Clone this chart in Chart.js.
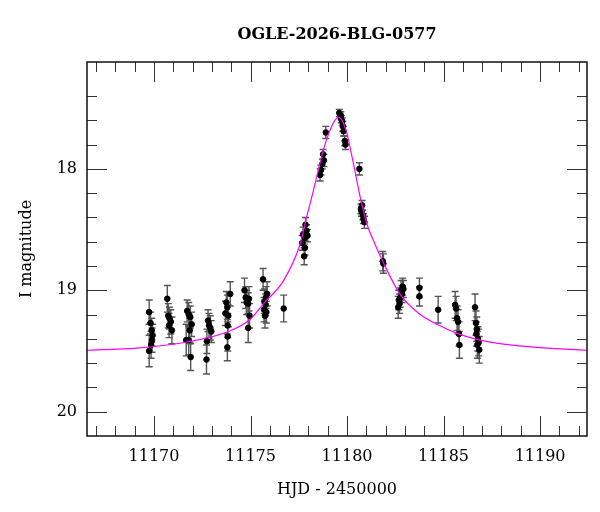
<!DOCTYPE html>
<html lang="en">
<head>
<meta charset="UTF-8">
<title>OGLE-2026-BLG-0577</title>
<script src="https://cdn.jsdelivr.net/npm/chart.js@4"></script>
<style>
  html, body { margin: 0; padding: 0; background: #fff; }
  #wrap { width: 600px; height: 512px; }
</style>
</head>
<body>
<div id="wrap"><canvas id="lc" width="600" height="512"></canvas></div>
<script>
// photometry (HJD - 2450000, I mag, 1-sigma error)
const obsTime = [
  11169.75, 11169.82, 11169.88, 11169.93, 11169.90, 11169.85, 11169.75,
  11170.69, 11170.74, 11170.80, 11170.87, 11170.78, 11170.93,
  11171.72, 11171.80, 11171.88, 11171.95, 11171.85, 11171.67, 11171.80, 11171.90,
  11172.80, 11172.85, 11172.92, 11172.97, 11172.74, 11172.72,
  11173.95, 11173.75, 11173.80, 11173.70, 11173.85, 11173.82, 11173.82, 11173.80,
  11174.69, 11174.75, 11174.80, 11174.92, 11174.88, 11174.95, 11174.88,
  11175.65, 11175.86, 11175.80, 11175.72, 11175.78, 11175.70, 11175.82, 11175.75,
  11176.72,
  11177.85, 11177.90, 11177.72, 11177.95, 11177.80, 11177.68, 11177.82, 11177.78,
  11178.60, 11178.65, 11178.72, 11178.80, 11178.76, 11178.90,
  11179.60, 11179.68, 11179.70, 11179.75, 11179.78, 11179.82, 11179.88, 11179.92,
  11180.64,
  11180.78, 11180.72, 11180.75, 11180.82, 11180.85, 11180.90,
  11181.85, 11181.88,
  11182.88, 11182.92, 11182.80, 11182.85, 11182.75, 11182.68, 11182.72, 11182.65,
  11183.75, 11183.75,
  11184.72,
  11185.60, 11185.65, 11185.70, 11185.75, 11185.80, 11185.82,
  11186.63, 11186.68, 11186.72, 11186.70, 11186.78, 11186.82, 11186.75, 11186.85
];
const obsMag = [
  19.18, 19.27, 19.33, 19.37, 19.41, 19.45, 19.50,
  19.07, 19.21, 19.23, 19.26, 19.29, 19.33,
  19.17, 19.20, 19.22, 19.28, 19.33, 19.41, 19.41, 19.55,
  19.25, 19.29, 19.31, 19.34, 19.42, 19.57,
  19.03, 19.10, 19.14, 19.19, 19.21, 19.29, 19.38, 19.47,
  19.00, 19.06, 19.10, 19.07, 19.11, 19.21, 19.31,
  18.91, 19.03, 19.06, 19.09, 19.12, 19.16, 19.18, 19.21,
  19.15,
  18.46, 18.51, 18.54, 18.55, 18.57, 18.61, 18.65, 18.72,
  18.05, 18.01, 17.96, 17.93, 17.88, 17.70,
  17.54, 17.56, 17.59, 17.61, 17.65, 17.69, 17.77, 17.80,
  18.00,
  18.30, 18.33, 18.35, 18.38, 18.41, 18.44,
  18.76, 18.78,
  18.97, 18.99, 19.00, 19.03, 19.06, 19.08, 19.11, 19.14,
  18.98, 19.05,
  19.16,
  19.12, 19.15, 19.23, 19.26, 19.36, 19.45,
  19.14, 19.27, 19.32, 19.36, 19.40, 19.43, 19.45, 19.49
];
const obsErr = [
  0.10, 0.09, 0.10, 0.09, 0.10, 0.11, 0.13,
  0.11, 0.10, 0.09, 0.10, 0.10, 0.11,
  0.09, 0.10, 0.09, 0.10, 0.10, 0.13, 0.12, 0.11,
  0.09, 0.10, 0.10, 0.09, 0.10, 0.12,
  0.10, 0.09, 0.10, 0.10, 0.09, 0.10, 0.12, 0.11,
  0.10, 0.09, 0.10, 0.10, 0.09, 0.10, 0.12,
  0.09, 0.10, 0.09, 0.10, 0.09, 0.10, 0.09, 0.10,
  0.11,
  0.06, 0.05, 0.06, 0.05, 0.05, 0.06, 0.06, 0.07,
  0.05, 0.04, 0.04, 0.05, 0.04, 0.05,
  0.03, 0.03, 0.03, 0.03, 0.04, 0.04, 0.04, 0.04,
  0.05,
  0.04, 0.04, 0.04, 0.04, 0.04, 0.05,
  0.08, 0.08,
  0.07, 0.07, 0.08, 0.07, 0.08, 0.08, 0.08, 0.09,
  0.08, 0.08,
  0.11,
  0.11, 0.10, 0.10, 0.10, 0.10, 0.11,
  0.11, 0.10, 0.10, 0.10, 0.10, 0.11, 0.11, 0.11
];

// model light curve
const modelTime = [
  11166.53, 11169.12, 11171.71, 11173.78, 11174.98, 11175.69, 11176.72,
  11177.58, 11177.91, 11178.28, 11178.43, 11178.77, 11179.12, 11179.38,
  11179.55, 11179.73, 11179.99, 11180.33, 11180.68, 11181.02, 11181.36,
  11181.87, 11182.75, 11183.78, 11184.66, 11185.70, 11186.73, 11187.83,
  11189.85, 11192.43
];
const modelMag = [
  19.494, 19.476, 19.426, 19.344, 19.240, 19.107, 18.918,
  18.615, 18.396, 18.165, 18.066, 17.846, 17.681, 17.598,
  17.576, 17.598, 17.708, 17.955, 18.231, 18.450, 18.588,
  18.769, 19.033, 19.198, 19.280, 19.355, 19.404, 19.437,
  19.470, 19.494
];

const xMajor = [11170, 11175, 11180, 11185, 11190];
const xMinor = [11167, 11168, 11169, 11171, 11172, 11173, 11174, 11176, 11177, 11178, 11179,
  11181, 11182, 11183, 11184, 11186, 11187, 11188, 11189, 11191, 11192];
const yMajor = [18, 19, 20];
const yMinor = [17.4, 17.6, 17.8, 18.2, 18.4, 18.6, 18.8, 19.2, 19.4, 19.6, 19.8];

const X_MIN = 11166.53, X_MAX = 11192.43;
const Y_MIN = 17.12, Y_MAX = 20.2;
const SERIF = "'DejaVu Serif', 'Liberation Serif', serif";

const points = obsTime.map((t, i) => ({ x: t, y: obsMag[i] }));
const model = modelTime.map((t, i) => ({ x: t, y: modelMag[i] }));

// vertical error bars with small caps
const errorBars = {
  id: 'errorBars',
  beforeDatasetsDraw(chart) {
    const { ctx, scales: { x, y } } = chart;
    ctx.save();
    ctx.strokeStyle = '#555';
    ctx.lineWidth = 1.4;
    obsTime.forEach((t, i) => {
      const px = x.getPixelForValue(t);
      const top = y.getPixelForValue(obsMag[i] - obsErr[i]);
      const bot = y.getPixelForValue(obsMag[i] + obsErr[i]);
      ctx.beginPath();
      ctx.moveTo(px, top); ctx.lineTo(px, bot);
      ctx.moveTo(px - 3.5, top); ctx.lineTo(px + 3.5, top);
      ctx.moveTo(px - 3.5, bot); ctx.lineTo(px + 3.5, bot);
      ctx.stroke();
    });
    ctx.restore();
  }
};

// box frame with inward ticks on all four sides
const frameTicks = {
  id: 'frameTicks',
  afterDraw(chart) {
    const { ctx, chartArea: a, scales: { x, y } } = chart;
    ctx.save();
    ctx.strokeStyle = '#333';
    ctx.lineWidth = 1;
    ctx.beginPath();
    const tickX = (v, len) => {
      const px = Math.round(x.getPixelForValue(v)) + 0.5;
      ctx.moveTo(px, a.bottom); ctx.lineTo(px, a.bottom - len);
      ctx.moveTo(px, a.top); ctx.lineTo(px, a.top + len);
    };
    const tickY = (v, len) => {
      const py = Math.round(y.getPixelForValue(v)) + 0.5;
      ctx.moveTo(a.left, py); ctx.lineTo(a.left + len, py);
      ctx.moveTo(a.right, py); ctx.lineTo(a.right - len, py);
    };
    xMajor.forEach(v => tickX(v, 20));
    xMinor.forEach(v => tickX(v, 10));
    yMajor.forEach(v => tickY(v, 20));
    yMinor.forEach(v => tickY(v, 10));
    ctx.stroke();
    ctx.strokeStyle = '#111';
    ctx.lineWidth = 1.5;
    ctx.strokeRect(a.left, a.top, a.right - a.left, a.bottom - a.top);
    ctx.restore();
  }
};

new Chart(document.getElementById('lc'), {
  type: 'scatter',
  data: {
    datasets: [
      {
        type: 'line',
        label: 'model',
        data: model,
        borderColor: '#ff00ff',
        borderWidth: 1.2,
        pointRadius: 0,
        cubicInterpolationMode: 'monotone',
        fill: false,
        order: 0
      },
      {
        label: 'OGLE',
        data: points,
        backgroundColor: '#000',
        borderColor: '#000',
        pointRadius: 2.8,
        order: 1
      }
    ]
  },
  options: {
    responsive: false,
    animation: false,
    devicePixelRatio: 1,
    layout: { padding: { top: 0, right: 13, bottom: 0, left: 0 } },
    plugins: {
      legend: { display: false },
      tooltip: { enabled: false },
      title: {
        display: true,
        text: 'OGLE-2026-BLG-0577',
        fullSize: false,
        color: '#000',
        font: { family: SERIF, size: 16, weight: 'bold' },
        padding: { top: 25, bottom: 17.8 }
      }
    },
    scales: {
      x: {
        type: 'linear',
        min: X_MIN,
        max: X_MAX,
        afterBuildTicks: s => { s.ticks = xMajor.map(v => ({ value: v })); },
        afterFit: s => { s.height = 76; },
        grid: { display: false, drawTicks: false },
        border: { display: false },
        ticks: {
          padding: 11,
          color: '#000',
          font: { family: SERIF, size: 16 },
          callback: v => String(v)
        },
        title: {
          display: true,
          text: 'HJD - 2450000',
          color: '#000',
          font: { family: SERIF, size: 16 },
          padding: { top: 0, bottom: 13 }
        }
      },
      y: {
        type: 'linear',
        reverse: true,
        min: Y_MIN,
        max: Y_MAX,
        afterBuildTicks: s => { s.ticks = yMajor.map(v => ({ value: v })); },
        afterFit: s => { s.width = 87; },
        grid: { display: false, drawTicks: false },
        border: { display: false },
        ticks: {
          padding: 10,
          color: '#000',
          font: { family: SERIF, size: 16 },
          callback: v => String(v)
        },
        title: {
          display: true,
          text: 'I magnitude',
          color: '#000',
          font: { family: SERIF, size: 16 },
          padding: { top: 17, bottom: 0 }
        }
      }
    }
  },
  plugins: [errorBars, frameTicks]
});
</script>
</body>
</html>
